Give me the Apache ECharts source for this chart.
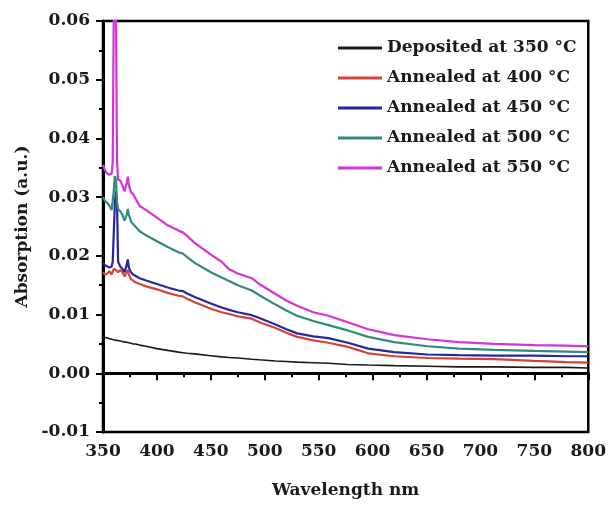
<!DOCTYPE html>
<html><head><meta charset="utf-8">
<script src="https://cdn.jsdelivr.net/npm/echarts@6/dist/echarts.min.js"></script>
<style>html,body{margin:0;padding:0;background:#fff}#c{width:609px;height:505px}</style>
</head><body><div id="c"></div>
<script>
const wavelength = [350,352,354,356,358,359,360,361,362,363,364,366,368,370,371,372,373,374,376,378,380,384,390,400,410,420,424,428,435,450,460,467,475,488,495,510,520,530,545,559,577,596,620,651,680,713,750,780,800];
const dep350 = [0.0062,0.0061,0.006,0.0059,0.0058,0.0058,0.0057,0.0057,0.0056,0.0056,0.0056,0.0055,0.0054,0.0053,0.0053,0.0053,0.0052,0.0052,0.0051,0.005,0.005,0.0048,0.0046,0.0042,0.0039,0.0036,0.0035,0.0034,0.0033,0.003,0.0028,0.0027,0.0026,0.0024,0.0023,0.0021,0.002,0.0019,0.0018,0.0017,0.0015,0.0014,0.0013,0.0012,0.0011,0.0011,0.001,0.001,0.0009];
const ann400 = [0.0172,0.0168,0.017,0.0174,0.0168,0.017,0.0178,0.018,0.0176,0.0178,0.0172,0.0176,0.0172,0.0165,0.0166,0.0172,0.0176,0.0168,0.016,0.0158,0.0155,0.0152,0.0148,0.0143,0.0137,0.0132,0.0131,0.0127,0.0121,0.011,0.0104,0.0101,0.0097,0.0093,0.0087,0.0077,0.0069,0.0062,0.0056,0.0052,0.0045,0.0034,0.0029,0.0026,0.0025,0.0024,0.0021,0.0019,0.0018];
const ann450 = [0.0188,0.0184,0.0182,0.018,0.0182,0.019,0.024,0.029,0.031,0.029,0.019,0.0182,0.0178,0.0172,0.0175,0.0185,0.0194,0.018,0.0172,0.0168,0.0166,0.0162,0.0158,0.0152,0.0146,0.0141,0.014,0.0136,0.013,0.0119,0.0112,0.0108,0.0104,0.0099,0.0094,0.0083,0.0075,0.0068,0.0063,0.006,0.0052,0.0042,0.0036,0.0032,0.0031,0.003,0.003,0.0029,0.0029];
const ann500 = [0.030,0.0293,0.029,0.0285,0.0278,0.0278,0.031,0.0336,0.033,0.029,0.028,0.0276,0.027,0.026,0.026,0.027,0.028,0.027,0.0258,0.0254,0.025,0.0242,0.0235,0.0225,0.0215,0.0206,0.0204,0.0198,0.0188,0.0172,0.0163,0.0157,0.015,0.0141,0.0133,0.0117,0.0107,0.0098,0.0089,0.0082,0.0073,0.0062,0.0053,0.0046,0.0042,0.004,0.0038,0.0037,0.0036];
const ann550 = [0.0355,0.0345,0.034,0.0338,0.034,0.036,0.062,0.065,0.062,0.036,0.033,0.0328,0.032,0.031,0.031,0.0325,0.0335,0.032,0.0308,0.0305,0.0298,0.0285,0.0278,0.0265,0.0252,0.0243,0.024,0.0234,0.0222,0.0202,0.019,0.0177,0.017,0.0162,0.0152,0.0135,0.0124,0.0115,0.0104,0.0098,0.0087,0.0075,0.0065,0.0058,0.0053,0.005,0.0048,0.0047,0.0046];
const seriesNames = ['Deposited at 350 °C','Annealed at 400 °C','Annealed at 450 °C','Annealed at 500 °C','Annealed at 550 °C'];
const seriesValues = [dep350, ann400, ann450, ann500, ann550];
const colors = ['#1a1a1a','#d0443a','#27279a','#2e8b7d','#d633d6'];
const widths = [1.6,2.2,2.2,2.2,2.2];

const FONT = 'DejaVu Serif';
const chart = echarts.init(document.getElementById('c'));
chart.setOption({
  animation:false,
  backgroundColor:'#fff',
  grid:{left:103,right:17,top:21,bottom:73,show:true,borderColor:'#000',borderWidth:2.5,backgroundColor:'transparent'},
  legend:{
    orient:'vertical', left:333, top:33, itemWidth:44, itemHeight:3, itemGap:10, icon:'rect',
    textStyle:{fontFamily:FONT,fontWeight:'bold',fontSize:17,color:'#1a1a1a',lineHeight:20},
    data:seriesNames
  },
  xAxis:{
    type:'value', min:350, max:800, interval:50,
    name:'Wavelength nm', nameLocation:'middle', nameGap:50,
    nameTextStyle:{fontFamily:FONT,fontWeight:'bold',fontSize:17,color:'#1a1a1a'},
    axisLine:{lineStyle:{color:'#000',width:3}},
    axisTick:{inside:false,length:7,lineStyle:{width:2,color:'#000'}},
    minorTick:{show:true,splitNumber:2,length:4,lineStyle:{width:2,color:'#000'}},
    splitLine:{show:false},
    axisLabel:{fontFamily:FONT,fontWeight:'bold',fontSize:17,color:'#1a1a1a',margin:11,showMinLabel:true,showMaxLabel:true}
  },
  yAxis:{
    type:'value', min:-0.01, max:0.06, interval:0.01,
    name:'Absorption (a.u.)', nameLocation:'middle', nameGap:72, nameRotate:90,
    nameTextStyle:{fontFamily:FONT,fontWeight:'bold',fontSize:17,color:'#1a1a1a'},
    axisLine:{show:true,lineStyle:{color:'#000',width:3}},
    axisTick:{show:true,inside:false,length:7,lineStyle:{width:2,color:'#000'}},
    minorTick:{show:true,splitNumber:2,length:4,lineStyle:{width:2,color:'#000'}},
    splitLine:{show:false},
    axisLabel:{fontFamily:FONT,fontWeight:'bold',fontSize:17,color:'#1a1a1a',margin:13,
      formatter:v=>v.toFixed(2)}
  },
  series: seriesNames.map((n,i)=>({
    name:n, type:'line', symbol:'none', clip:true,
    color:colors[i],
    lineStyle:{color:colors[i],width:widths[i]},
    data: wavelength.map((w,j)=>[w, seriesValues[i][j]])
  }))
});
</script></body></html>
